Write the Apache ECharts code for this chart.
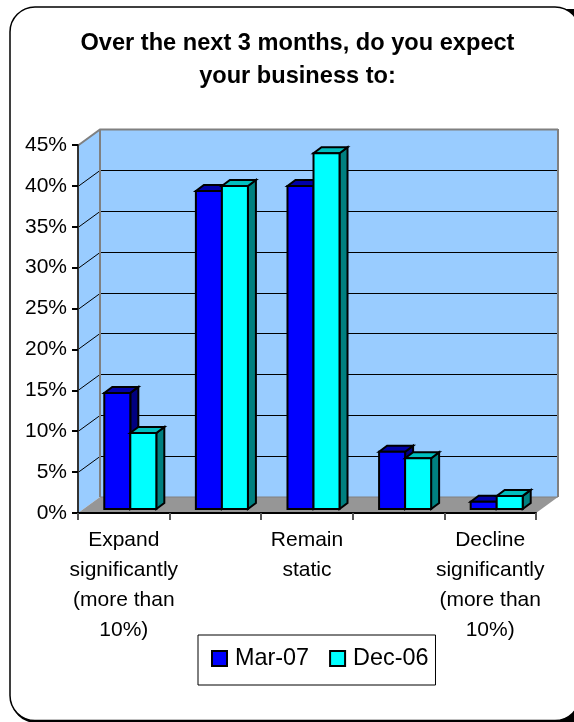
<!DOCTYPE html>
<html>
<head>
<meta charset="utf-8">
<style>html,body{margin:0;padding:0;background:#fff}#chart{width:574px;height:722px}</style>
<script src="https://cdn.jsdelivr.net/npm/echarts@6/dist/echarts.min.js"></script>
</head>
<body>
<div id="chart"></div>
<script>
// Survey answers, in percent
const categories = [
  'Expand\nsignificantly\n(more than\n10%)', '',
  'Remain\nstatic', '',
  'Decline\nsignificantly\n(more than\n10%)'
];
const mar07 = [14.2, 38.9, 39.5, 7.0, 0.9];
const dec06 = [9.3, 39.5, 43.5, 6.2, 1.6];
const yTicks = [0, 5, 10, 15, 20, 25, 30, 35, 40, 45];

// Oblique projection of the box and of the bars standing inside it
const WALL_DX = 22, WALL_DY = -16;
const BAR_SHIFT_X = 6.5, BAR_SHIFT_Y = -4;
const BAR_DX = 8, BAR_DY = -6;
const BAR_RATIO = 0.284;
const FONT = '"Liberation Sans", Arial, sans-serif';

function poly(points, fill, stroke, width) {
  return {
    type: 'polygon',
    shape: { points },
    style: { fill, stroke: stroke || null, lineWidth: width || 0, lineJoin: 'miter' }
  };
}

function renderBox(params, api) {
  const c = params.coordSys;
  const l = c.x, r = c.x + c.width, t = c.y, b = c.y + c.height;
  const d = (p) => [p[0] + WALL_DX, p[1] + WALL_DY];
  return {
    type: 'group',
    children: [
      poly([[l, b], d([l, b]), d([l, t]), [l, t]], '#99CCFF'),
      poly([d([l, b]), d([r, b]), d([r, t]), d([l, t])], '#99CCFF'),
      poly([[l, b], [r, b], d([r, b]), d([l, b])], '#969696')
    ]
  };
}

function renderGridLine(params, api) {
  const c = params.coordSys;
  const v = api.value(0);
  const y = Math.round(api.coord([0, v])[1]) + 0.5;
  const l = c.x, r = c.x + c.width;
  const edge = v === yTicks[yTicks.length - 1];
  if (v === 0) return { type: 'group', children: [] };
  return {
    type: 'polyline',
    shape: { points: [[l, y], [l + WALL_DX, y + WALL_DY], [r + WALL_DX, y + WALL_DY]] },
    style: { fill: null, stroke: edge ? '#808080' : '#000000', lineWidth: edge ? 2 : 1 }
  };
}

function renderWallEdges(params, api) {
  const c = params.coordSys;
  const l = c.x + WALL_DX, r = c.x + c.width + WALL_DX;
  const t = c.y + WALL_DY, b = c.y + c.height + WALL_DY;
  return {
    type: 'group',
    children: [
      { type: 'line', shape: { x1: l, y1: t, x2: l, y2: b }, style: { stroke: '#808080', lineWidth: 2 } },
      { type: 'line', shape: { x1: r, y1: t, x2: r, y2: b }, style: { stroke: '#808080', lineWidth: 2 } },
      { type: 'line', shape: { x1: l, y1: b, x2: r, y2: b }, style: { stroke: '#808080', lineWidth: 1 } }
    ]
  };
}

// One 3D bar: front face, top face, right side face
function barRenderer(slot, colors) {
  return function (params, api) {
    const base = api.coord([api.value(0), 0]);
    const top = api.coord([api.value(0), api.value(1)]);
    const w = api.size([1, 0])[0] * BAR_RATIO;
    const x0 = base[0] + BAR_SHIFT_X + (slot - 1) * w;
    const x1 = x0 + w;
    const yb = base[1] + BAR_SHIFT_Y;
    const yt = top[1] + BAR_SHIFT_Y;
    const line = 2;
    return {
      type: 'group',
      children: [
        poly([[x1, yb], [x1 + BAR_DX, yb + BAR_DY], [x1 + BAR_DX, yt + BAR_DY], [x1, yt]], colors.side, '#000', line),
        poly([[x0, yt], [x1, yt], [x1 + BAR_DX, yt + BAR_DY], [x0 + BAR_DX, yt + BAR_DY]], colors.top, '#000', line),
        poly([[x0, yb], [x1, yb], [x1, yt], [x0, yt]], colors.front, '#000', line)
      ]
    };
  };
}

const chart = echarts.init(document.getElementById('chart'), null, { renderer: 'canvas' });
chart.setOption({
  animation: false,
  backgroundColor: '#ffffff',
  graphic: [
    // Offset shadow behind the rounded chart frame
    {
      type: 'rect',
      z: -2,
      shape: { x: 11, y: 9, width: 600, height: 714, r: [25, 0, 0, 25] },
      style: { fill: '#000000' }
    },
    {
      type: 'rect',
      z: -1,
      shape: { x: 10, y: 7, width: 570, height: 713.5, r: 25 },
      style: { fill: '#ffffff', stroke: '#000000', lineWidth: 1.5 }
    }
  ],
  title: {
    text: 'Over the next 3 months, do you expect\nyour business to:',
    left: 292.5,
    top: 22,
    textAlign: 'center',
    textStyle: { fontFamily: FONT, fontSize: 23.6, fontWeight: 'bold', color: '#000', lineHeight: 33 }
  },
  legend: {
    data: ['Mar-07', 'Dec-06'],
    left: 198,
    top: 635,
    orient: 'horizontal',
    icon: 'rect',
    itemWidth: 15,
    itemHeight: 15,
    itemGap: 20,
    padding: [12, 7, 15, 13],
    borderColor: '#000',
    borderWidth: 1,
    textStyle: { fontFamily: FONT, fontSize: 23.4, color: '#000', padding: [0, 0, 0, 3] }
  },
  grid: { left: 78, right: 38, top: 145, bottom: 209 },
  xAxis: {
    type: 'category',
    data: categories,
    z: 5,
    axisLine: { lineStyle: { color: '#000', width: 2 } },
    axisTick: { show: true, alignWithLabel: false, interval: 0, length: 7, lineStyle: { color: '#555', width: 2 } },
    axisLabel: { interval: 0, margin: 12, fontFamily: FONT, fontSize: 21, lineHeight: 30, color: '#000' }
  },
  yAxis: {
    type: 'value',
    min: 0,
    max: 45,
    interval: 5,
    z: 5,
    axisLine: { show: true, lineStyle: { color: '#333', width: 2 } },
    axisTick: { show: true, length: 6, lineStyle: { color: '#000', width: 2 } },
    splitLine: { show: false },
    axisLabel: { margin: 11, fontFamily: FONT, fontSize: 21, color: '#000', formatter: '{value}%' }
  },
  series: [
    { type: 'custom', name: 'box', silent: true, z: 0, data: [[0]], renderItem: renderBox },
    { type: 'custom', name: 'gridlines', silent: true, z: 0, data: yTicks.map(v => [v]), renderItem: renderGridLine },
    { type: 'custom', name: 'edges', silent: true, z: 0, data: [[0]], renderItem: renderWallEdges },
    {
      type: 'custom', name: 'Mar-07', z: 2,
      itemStyle: { color: '#0000FF', borderColor: '#000', borderWidth: 2 },
      data: mar07.map((v, i) => [i, v]),
      encode: { x: 0, y: 1 },
      renderItem: barRenderer(0, { front: '#0000FF', top: '#0000A8', side: '#000080' })
    },
    {
      type: 'custom', name: 'Dec-06', z: 2,
      itemStyle: { color: '#00FFFF', borderColor: '#000', borderWidth: 2 },
      data: dec06.map((v, i) => [i, v]),
      encode: { x: 0, y: 1 },
      renderItem: barRenderer(1, { front: '#00FFFF', top: '#00BFBF', side: '#008080' })
    }
  ]
});
</script>
</body>
</html>
